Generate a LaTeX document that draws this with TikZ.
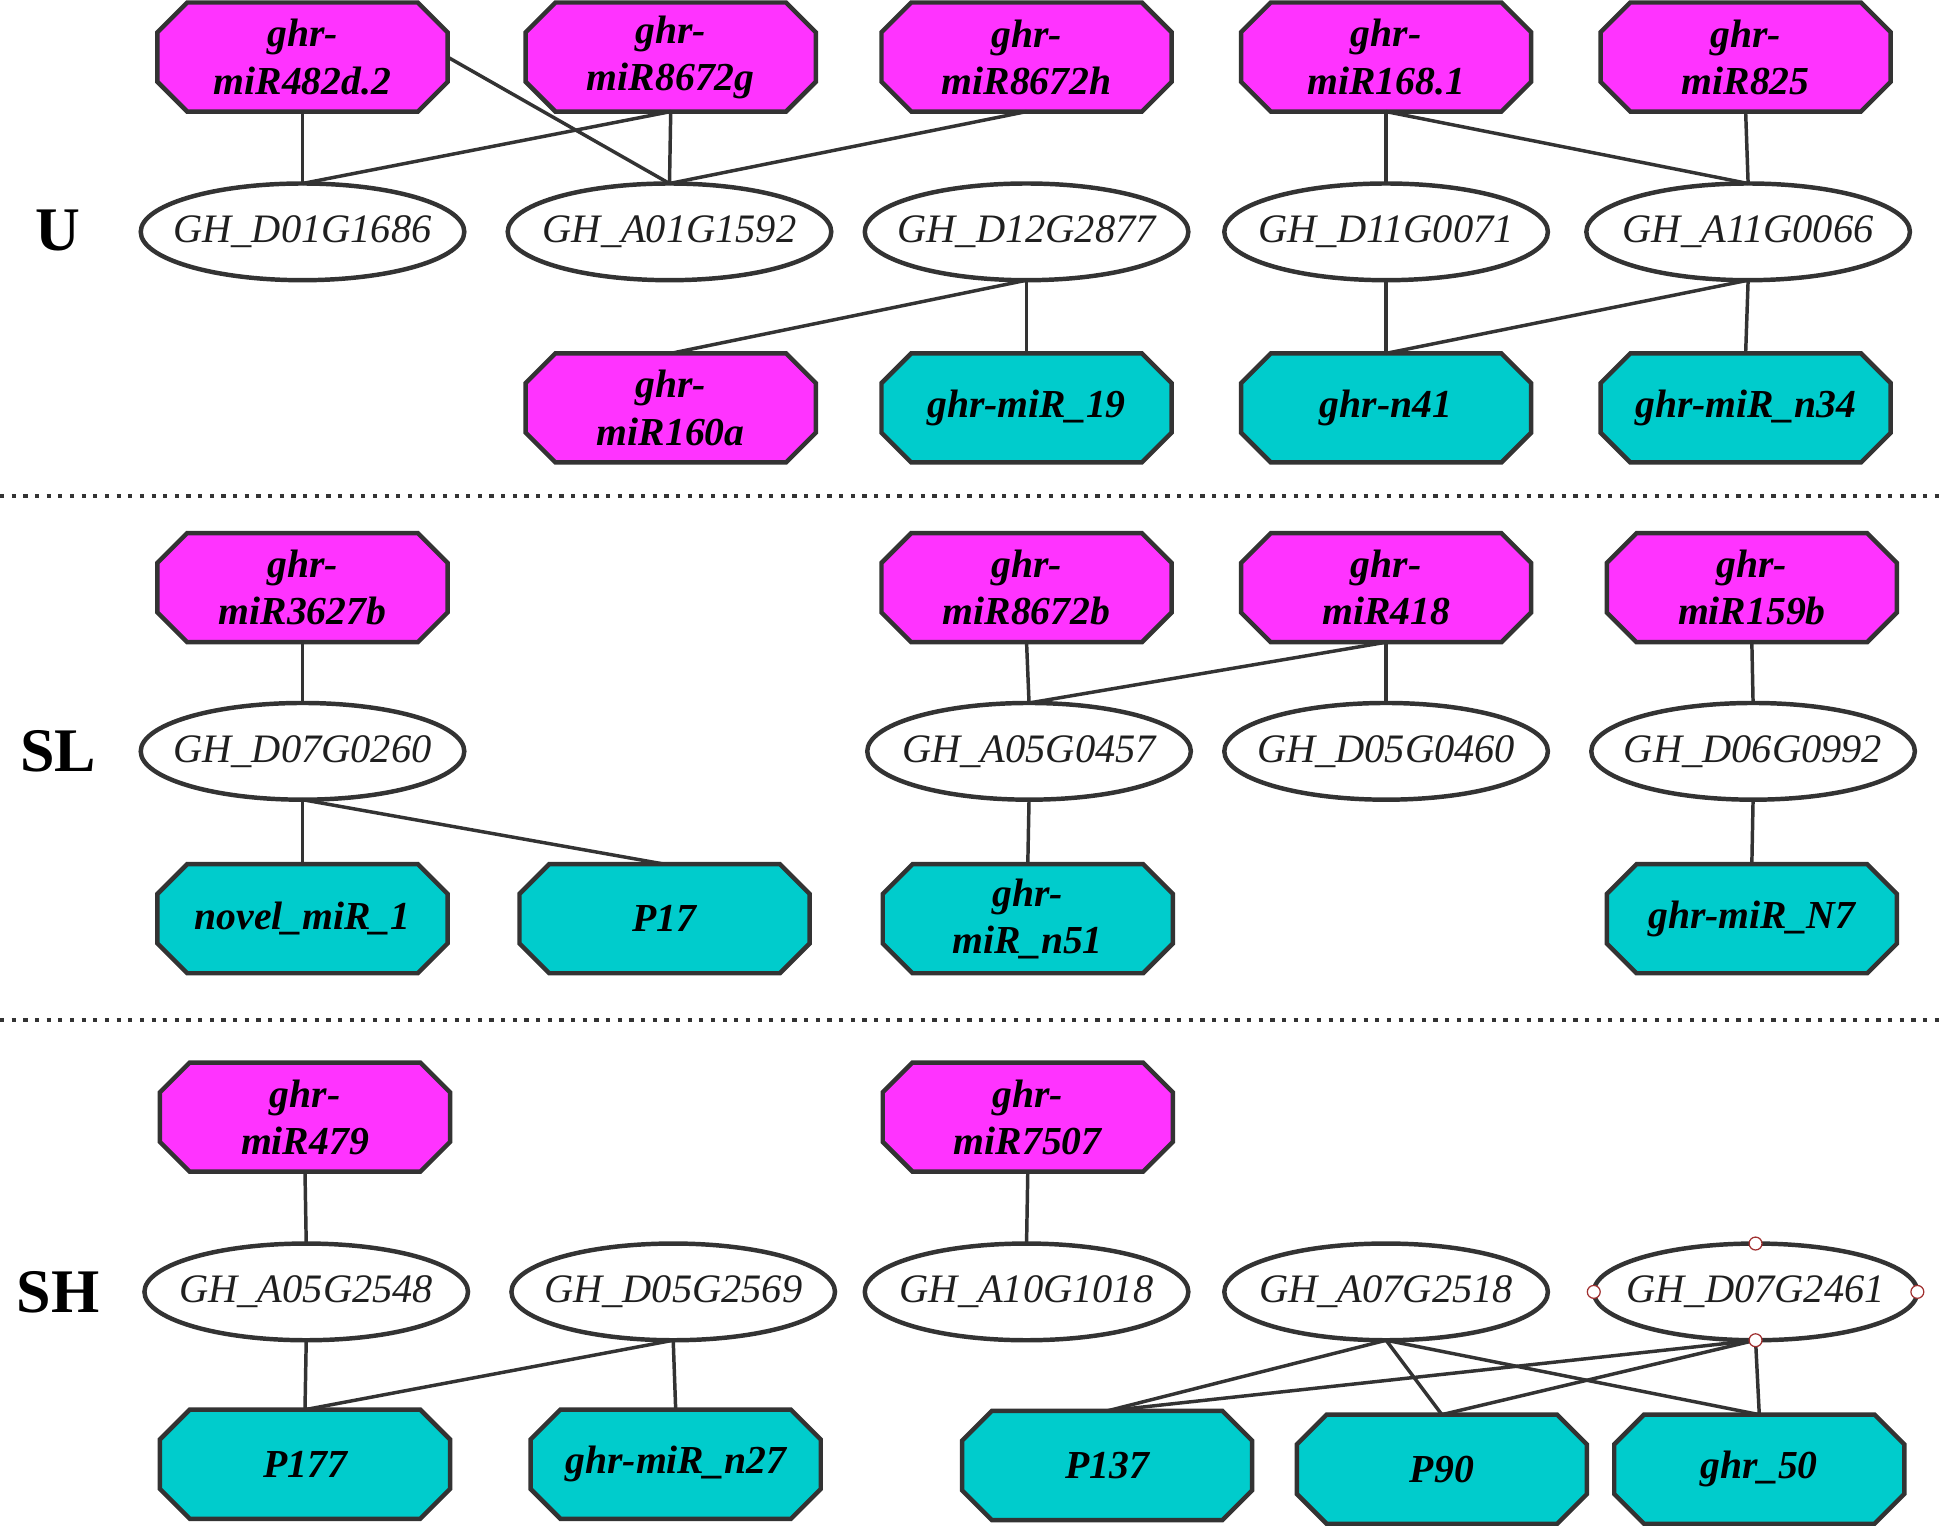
\documentclass[tikz,border=0pt]{standalone}
\usepackage{fontspec}
\setmainfont{Liberation Serif}
\usetikzlibrary{shapes.geometric}
\definecolor{mag}{HTML}{FF33FF}
\definecolor{teal2}{HTML}{00CCCC}
\definecolor{edgec}{HTML}{333333}
\definecolor{handlec}{HTML}{A03030}
\makeatletter
\pgfdeclareshape{octbox}{%
  \inheritsavedanchors[from=rectangle]%
  \inheritanchorborder[from=rectangle]%
  \inheritanchor[from=rectangle]{center}%
  \inheritanchor[from=rectangle]{text}%
  \inheritanchor[from=rectangle]{mid}%
  \inheritanchor[from=rectangle]{base}%
  \inheritanchor[from=rectangle]{north}%
  \inheritanchor[from=rectangle]{south}%
  \inheritanchor[from=rectangle]{east}%
  \inheritanchor[from=rectangle]{west}%
  \inheritanchor[from=rectangle]{north east}%
  \inheritanchor[from=rectangle]{north west}%
  \inheritanchor[from=rectangle]{south east}%
  \inheritanchor[from=rectangle]{south west}%
  \backgroundpath{%
    \southwest \edef\oxa{\the\pgf@x}\edef\oya{\the\pgf@y}%
    \northeast \edef\oxb{\the\pgf@x}\edef\oyb{\the\pgf@y}%
    \def\oc{12pt}%
    \pgfpathmoveto{\pgfpoint{\oxa+\oc}{\oyb}}%
    \pgfpathlineto{\pgfpoint{\oxb-\oc}{\oyb}}%
    \pgfpathlineto{\pgfpoint{\oxb}{\oyb-\oc}}%
    \pgfpathlineto{\pgfpoint{\oxb}{\oya+\oc}}%
    \pgfpathlineto{\pgfpoint{\oxb-\oc}{\oya}}%
    \pgfpathlineto{\pgfpoint{\oxa+\oc}{\oya}}%
    \pgfpathlineto{\pgfpoint{\oxa}{\oya+\oc}}%
    \pgfpathlineto{\pgfpoint{\oxa}{\oyb-\oc}}%
    \pgfpathclose
  }%
}
\makeatother
\newcommand\gn[1]{\makebox[0pt]{#1}}
\tikzset{
  oct/.style={shape=octbox, draw=edgec, line width=1.8pt, minimum width=117pt,
    minimum height=44pt, inner sep=0pt, outer sep=0pt, align=center,
    font=\fontsize{16}{19}\selectfont\bfseries\itshape},
  mirna/.style={oct, fill=mag},
  novel/.style={oct, fill=teal2},
  gene/.style={ellipse, draw=edgec, fill=white, line width=1.8pt,
    minimum width=130.5pt, minimum height=39pt, inner sep=0pt, outer sep=0pt,
    font=\fontsize{16.3}{18}\selectfont\itshape, text=black!88},
  link/.style={draw=edgec, line width=1.4pt},
  grp/.style={font=\fontsize{25}{30}\selectfont\bfseries},
  sepline/.style={draw=edgec, line width=1.7pt, dash pattern=on 1.7pt off 3pt},
  handle/.style={draw=handlec, fill=white, line width=0.5pt},
}
\begin{document}
\begin{tikzpicture}[x=0.5pt, y=-0.5pt]
\useasboundingbox (0,0) rectangle (1568,1233);

% ---------- U ----------
\node[grp] (lU) at (47,186) {U};
\node[mirna] (a1) at (244,46) {ghr-\\miR482d.2};
\node[mirna] (a2) at (541,46) {ghr-\\miR8672g};
\node[mirna] (a3) at (828,46) {ghr-\\miR8672h};
\node[mirna] (a4) at (1118,46) {ghr-\\miR168.1};
\node[mirna] (a5) at (1408,46) {ghr-\\miR825};
\node[gene] (ga1) at (244,187) {\gn{GH\_D01G1686}};
\node[gene] (ga2) at (540,187) {\gn{GH\_A01G1592}};
\node[gene] (ga3) at (828,187) {\gn{GH\_D12G2877}};
\node[gene] (ga4) at (1118,187) {\gn{GH\_D11G0071}};
\node[gene] (ga5) at (1410,187) {\gn{GH\_A11G0066}};
\node[mirna] (c1) at (541,329) {ghr-\\miR160a};
\node[novel] (c2) at (828,329) {ghr-miR\_19};
\node[novel] (c3) at (1118,329) {ghr-n41};
\node[novel] (c4) at (1408,329) {ghr-miR\_n34};

\draw[link] (a1.south) -- (ga1.north);
\draw[link] (a1.east) -- (ga2.north);
\draw[link] (a2.south) -- (ga1.north);
\draw[link] (a2.south) -- (ga2.north);
\draw[link] (a3.south) -- (ga2.north);
\draw[link] (a4.south) -- (ga4.north);
\draw[link] (a4.south) -- (ga5.north);
\draw[link] (a5.south) -- (ga5.north);
\draw[link] (ga3.south) -- (c1.north);
\draw[link] (ga3.south) -- (c2.north);
\draw[link] (ga4.south) -- (c3.north);
\draw[link] (ga5.south) -- (c3.north);
\draw[link] (ga5.south) -- (c4.north);

\coordinate (d1l) at (0,400);
\coordinate (d1r) at (1568,400);
\draw[sepline] (d1l) -- (d1r);

% ---------- SL ----------
\node[grp] (lSL) at (47,606) {SL};
\node[mirna] (s1) at (244,474) {ghr-\\miR3627b};
\node[mirna] (s2) at (828,474) {ghr-\\miR8672b};
\node[mirna] (s3) at (1118,474) {ghr-\\miR418};
\node[mirna] (s4) at (1413,474) {ghr-\\miR159b};
\node[gene] (gs1) at (244,606) {\gn{GH\_D07G0260}};
\node[gene] (gs2) at (830,606) {\gn{GH\_A05G0457}};
\node[gene] (gs3) at (1118,606) {\gn{GH\_D05G0460}};
\node[gene] (gs4) at (1414,606) {\gn{GH\_D06G0992}};
\node[novel] (t1) at (244,741) {novel\_miR\_1};
\node[novel] (t2) at (536,741) {P17};
\node[novel] (t3) at (829,741) {ghr-\\miR\_n51};
\node[novel] (t4) at (1413,741) {ghr-miR\_N7};

\draw[link] (s1.south) -- (gs1.north);
\draw[link] (gs1.south) -- (t1.north);
\draw[link] (gs1.south) -- (t2.north);
\draw[link] (s2.south) -- (gs2.north);
\draw[link] (s3.south) -- (gs2.north);
\draw[link] (s3.south) -- (gs3.north);
\draw[link] (s4.south) -- (gs4.north);
\draw[link] (gs2.south) -- (t3.north);
\draw[link] (gs4.south) -- (t4.north);

\coordinate (d2l) at (0,823);
\coordinate (d2r) at (1568,823);
\draw[sepline] (d2l) -- (d2r);

% ---------- SH ----------
\node[grp] (lSH) at (47,1042) {SH};
\node[mirna] (h1) at (246,901) {ghr-\\miR479};
\node[mirna] (h2) at (829,901) {ghr-\\miR7507};
\node[gene] (gh1) at (247,1042) {\gn{GH\_A05G2548}};
\node[gene] (gh2) at (543,1042) {\gn{GH\_D05G2569}};
\node[gene] (gh3) at (828,1042) {\gn{GH\_A10G1018}};
\node[gene] (gh4) at (1118,1042) {\gn{GH\_A07G2518}};
\node[gene] (gh5) at (1416,1042) {\gn{GH\_D07G2461}};
\node[novel] (p1) at (246,1181) {P177};
\node[novel] (p2) at (545,1181) {ghr-miR\_n27};
\node[novel] (p3) at (893,1182) {P137};
\node[novel] (p4) at (1163,1185) {P90};
\node[novel] (p5) at (1419,1185) {ghr\_50};

\draw[link] (h1.south) -- (gh1.north);
\draw[link] (gh1.south) -- (p1.north);
\draw[link] (gh2.south) -- (p1.north);
\draw[link] (gh2.south) -- (p2.north);
\draw[link] (h2.south) -- (gh3.north);
\draw[link] (gh4.south) -- (p3.north);
\draw[link] (gh4.south) -- (p4.north);
\draw[link] (gh4.south) -- (p5.north);
\draw[link] (gh5.south) -- (p3.north);
\draw[link] (gh5.south) -- (p4.north);
\draw[link] (gh5.south) -- (p5.north);

\foreach \an in {north,south,east,west}
  \draw[handle] (gh5.\an) circle (2.6pt);
\end{tikzpicture}
\end{document}
